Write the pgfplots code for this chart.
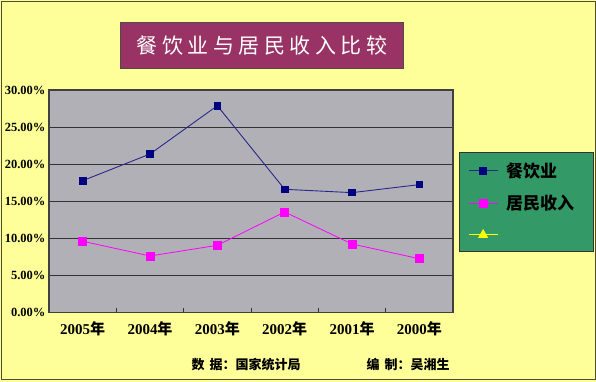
\documentclass[border=0pt]{standalone}
\usepackage{pgfplots}
\pgfplotsset{compat=1.18}
\usepackage{fontspec}
\setmainfont{Liberation Serif}
\newfontfamily\cjk{Noto Sans CJK SC}
\definecolor{bgyellow}{RGB}{255,255,153}
\definecolor{framecol}{HTML}{4D4D33}
\definecolor{titlecol}{RGB}{153,51,102}
\definecolor{legendgreen}{RGB}{51,153,102}
\definecolor{plotgray}{RGB}{178,176,183}
\definecolor{navymark}{RGB}{0,0,128}
\definecolor{navyline}{RGB}{40,40,140}
\definecolor{pmagenta}{RGB}{255,0,255}
\definecolor{pyellow}{RGB}{255,255,0}
\begin{document}
\begin{tikzpicture}[x=1pt,y=1pt]
\fill[bgyellow] (0,0) rectangle (596,382);
\draw[framecol, line width=1pt] (1,2) rectangle (595,380);
\fill[titlecol] (120.7,313.3) rectangle (403.3,359.3);
\draw[black!70, line width=1pt] (120.7,313.3) rectangle (403.3,359.3);
\node[text=white, font=\cjk\fontsize{21}{21}\selectfont] at (262,336.3)
  {餐\hspace{4.5pt}饮\hspace{4.5pt}业\hspace{4.5pt}与\hspace{4.5pt}居\hspace{4.5pt}民\hspace{4.5pt}收\hspace{4.5pt}入\hspace{4.5pt}比\hspace{4.5pt}较};
\fill[legendgreen] (459.3,130.3) rectangle (593.3,229.3);
\draw[black!80, line width=1.2pt] (459.3,130.3) rectangle (593.3,229.3);
\begin{axis}[
  at={(49pt,69.5pt)}, anchor=south west,
  scale only axis, width=404pt, height=222.5pt,
  xmin=-0.5, xmax=5.5, ymin=0, ymax=30,
  xtick={0,1,2,3,4,5},
  xticklabels={2005{\cjk 年},2004{\cjk 年},2003{\cjk 年},2002{\cjk 年},2001{\cjk 年},2000{\cjk 年}},
  major x tick style={draw=none},
  minor xtick={0.5,1.5,2.5,3.5,4.5},
  minor tick length=4pt,
  minor x tick style={black!80, line width=0.8pt},
  tick pos=left,
  ytick={0,5,10,15,20,25,30},
  yticklabel={\pgfmathprintnumber[fixed,fixed zerofill,precision=2]{\tick}\%},
  major y tick style={draw=none},
  ymajorgrids,
  major grid style={line width=1pt, black!80},
  axis background/.style={fill=plotgray},
  axis line style={line width=1.2pt, black!75},
  /pgf/number format/assume math mode=true,
  yticklabel style={font=\bfseries\fontsize{12.5}{12.5}\selectfont},
  xticklabel style={font=\bfseries\fontsize{15}{15}\selectfont, yshift=-6pt},
  legend style={at={(1.0371,0.6867)}, anchor=north west, draw=none, fill=none,
    inner sep=0pt, row sep=10pt, column sep=8pt,
    nodes={inner sep=0pt, minimum height=22pt},
    font=\cjk\bfseries\fontsize{17}{17}\selectfont},
  legend cell align=left,
  legend image code/.code={\draw[mark repeat=2,mark phase=2,#1] plot coordinates {(0pt,0pt) (14.5pt,0pt) (29pt,0pt)};},
]
\addplot[color=navyline, line width=0.9pt, mark=square*, mark size=3.3pt,
  mark options={fill=navymark, draw=navymark}]
  coordinates {(0,17.77) (1,21.37) (2,27.88) (3,16.61) (4,16.16) (5,17.24)};
\addlegendentry{餐饮业}
\addplot[color=pmagenta, line width=0.8pt, mark=square*, mark size=4pt,
  mark options={fill=pmagenta, draw=pmagenta}]
  coordinates {(0,9.60) (1,7.62) (2,9.06) (3,13.55) (4,9.24) (5,7.25)};
\addlegendentry{居民收入}
\addlegendimage{color=pyellow, line width=0.9pt, mark=triangle*, mark size=5pt, mark options={fill=pyellow, draw=pyellow}}
\addlegendentry{}
\end{axis}
\node[anchor=west, font=\cjk\bfseries\fontsize{13}{13}\selectfont] at (188,17) {数\hspace{5pt}据：国家统计局};
\node[anchor=west, font=\cjk\bfseries\fontsize{13}{13}\selectfont] at (363,17) {编\hspace{5pt}制：吴湘生};
\end{tikzpicture}
\end{document}
